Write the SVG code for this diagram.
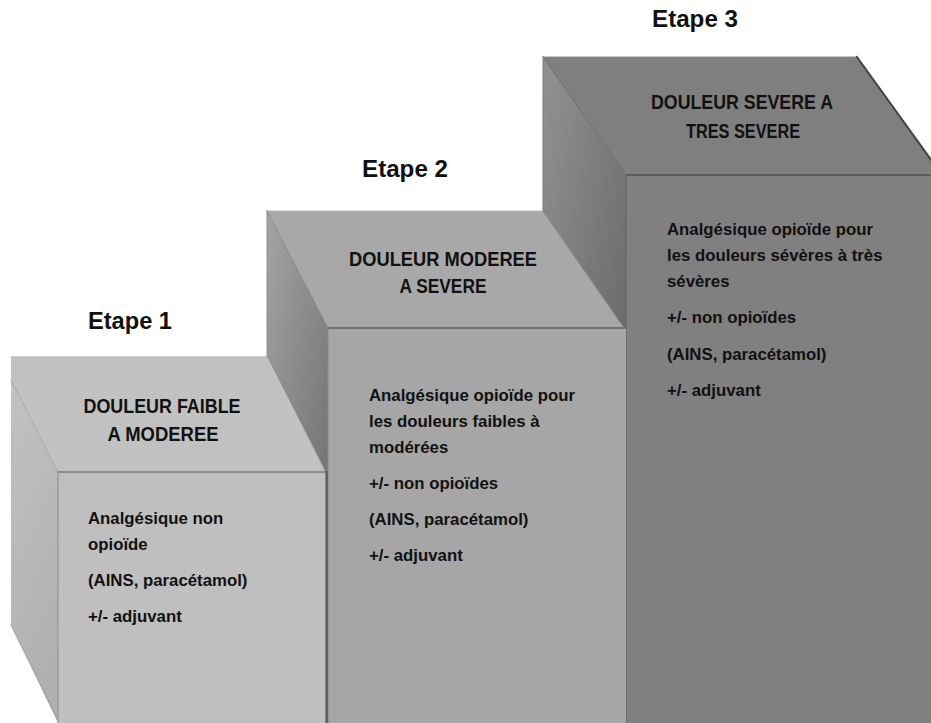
<svg xmlns="http://www.w3.org/2000/svg" width="931" height="723" viewBox="0 0 931 723">
  <defs>
    <linearGradient id="side1" x1="0" y1="0" x2="0.3" y2="1">
      <stop offset="0" stop-color="#c2c2c2"/>
      <stop offset="1" stop-color="#b0b0b0"/>
    </linearGradient>
    <linearGradient id="side2" x1="0" y1="0" x2="0.6" y2="1">
      <stop offset="0" stop-color="#a4a4a4"/>
      <stop offset="1" stop-color="#6a6a6a"/>
    </linearGradient>
    <linearGradient id="side3" x1="0" y1="0" x2="0.6" y2="1">
      <stop offset="0" stop-color="#929292"/>
      <stop offset="1" stop-color="#5e5e5e"/>
    </linearGradient>
  </defs>
  <style>
    .t { font-family: "Liberation Sans", Arial, sans-serif; font-weight: bold; fill: #111111; }
    .etape { font-size: 23.5px; }
    .title { font-size: 20px; text-anchor: middle; }
    .body { font-size: 16.8px; }
    .edge { fill: none; stroke-linecap: square; }
  </style>
  <rect width="931" height="723" fill="#ffffff"/>

  <g id="step3">
    <polygon points="543,57 626,175 626,723 543,723" fill="url(#side3)"/>
    <polygon points="543,57 857,57 942,175 626,175" fill="#7f7f7f"/>
    <rect x="626" y="175" width="305" height="548" fill="#808080"/>
    <line class="edge" x1="626" y1="175" x2="931" y2="175" stroke="#5c5c5c" stroke-width="2"/>
    <line class="edge" x1="626" y1="176" x2="626" y2="723" stroke="#6a6a6a" stroke-width="1.5"/>
    <line class="edge" x1="543" y1="57" x2="626" y2="175" stroke="#6a6a6a" stroke-width="1"/>
    <line class="edge" x1="543" y1="57" x2="857" y2="57" stroke="#8c8c8c" stroke-width="1"/>
    <line class="edge" x1="857" y1="57" x2="942" y2="175" stroke="#444444" stroke-width="2"/>
    <line class="edge" x1="543" y1="57" x2="543" y2="723" stroke="#7a7a7a" stroke-width="1"/>
    <text class="t title" x="742" y="109" textLength="182" lengthAdjust="spacingAndGlyphs">DOULEUR SEVERE A</text>
    <text class="t title" x="743" y="138" textLength="114" lengthAdjust="spacingAndGlyphs">TRES SEVERE</text>
    <text class="t body" x="667" y="235">Analgésique opioïde pour</text>
    <text class="t body" x="667" y="261">les douleurs sévères à très</text>
    <text class="t body" x="667" y="287">sévères</text>
    <text class="t body" x="667" y="323">+/- non opioïdes</text>
    <text class="t body" x="667" y="360">(AINS, paracétamol)</text>
    <text class="t body" x="667" y="396">+/- adjuvant</text>
  </g>

  <g id="step2">
    <polygon points="267,211 328,328 328,723 267,723" fill="url(#side2)"/>
    <polygon points="267,211 543,211 624,328 328,328" fill="#a8a8a8"/>
    <rect x="328" y="328" width="298" height="395" fill="#a6a6a6"/>
    <line class="edge" x1="328" y1="328" x2="625" y2="328" stroke="#707070" stroke-width="2"/>
    <line class="edge" x1="267" y1="211" x2="328" y2="328" stroke="#8a8a8a" stroke-width="1"/>
    <line class="edge" x1="267" y1="211" x2="543" y2="211" stroke="#b8b8b8" stroke-width="1"/>
    <line class="edge" x1="543" y1="211" x2="624" y2="328" stroke="#8a8a8a" stroke-width="1"/>
    <line class="edge" x1="267" y1="211" x2="267" y2="723" stroke="#8f8f8f" stroke-width="1"/>
    <line class="edge" x1="328" y1="329" x2="328" y2="723" stroke="#8a8a8a" stroke-width="1"/>
    <text class="t title" x="443" y="266" textLength="188" lengthAdjust="spacingAndGlyphs">DOULEUR MODEREE</text>
    <text class="t title" x="443" y="293" textLength="87" lengthAdjust="spacingAndGlyphs">A SEVERE</text>
    <text class="t body" x="369" y="401">Analgésique opioïde pour</text>
    <text class="t body" x="369" y="427">les douleurs faibles à</text>
    <text class="t body" x="369" y="453">modérées</text>
    <text class="t body" x="369" y="489">+/- non opioïdes</text>
    <text class="t body" x="369" y="525">(AINS, paracétamol)</text>
    <text class="t body" x="369" y="561">+/- adjuvant</text>
  </g>

  <g id="step1">
    <polygon points="11,380 58,472 58,723 11,625" fill="url(#side1)"/>
    <polygon points="11,357 268,357 326,472 58,472 11,380" fill="#c1c1c1"/>
    <rect x="58" y="472" width="268" height="251" fill="#bfbfbf"/>
    <line class="edge" x1="58" y1="472" x2="326" y2="472" stroke="#8c8c8c" stroke-width="2"/>
    <line class="edge" x1="58" y1="473" x2="58" y2="723" stroke="#8e8e8e" stroke-width="1"/>
    <line class="edge" x1="11" y1="380" x2="58" y2="472" stroke="#a8a8a8" stroke-width="1"/>
    <line class="edge" x1="11" y1="357" x2="268" y2="357" stroke="#a9a9a9" stroke-width="1"/>
    <line class="edge" x1="268" y1="357" x2="326" y2="472" stroke="#8a8a8a" stroke-width="1"/>
    <line class="edge" x1="11" y1="625" x2="58" y2="720" stroke="#a0a0a0" stroke-width="1"/>
    <line class="edge" x1="326.5" y1="472" x2="326.5" y2="723" stroke="#555555" stroke-width="2"/>
    <text class="t title" x="162" y="413" textLength="157" lengthAdjust="spacingAndGlyphs">DOULEUR FAIBLE</text>
    <text class="t title" x="163" y="441" textLength="111" lengthAdjust="spacingAndGlyphs">A MODEREE</text>
    <text class="t body" x="88" y="524">Analgésique non</text>
    <text class="t body" x="88" y="550">opioïde</text>
    <text class="t body" x="88" y="586">(AINS, paracétamol)</text>
    <text class="t body" x="88" y="622">+/- adjuvant</text>
  </g>

  <g id="labels">
    <text class="t etape" x="88" y="329" textLength="84" lengthAdjust="spacingAndGlyphs">Etape 1</text>
    <text class="t etape" x="362" y="177" textLength="86" lengthAdjust="spacingAndGlyphs">Etape 2</text>
    <text class="t etape" x="652" y="27" textLength="86" lengthAdjust="spacingAndGlyphs">Etape 3</text>
  </g>

  <g id="connectors"/>
</svg>
